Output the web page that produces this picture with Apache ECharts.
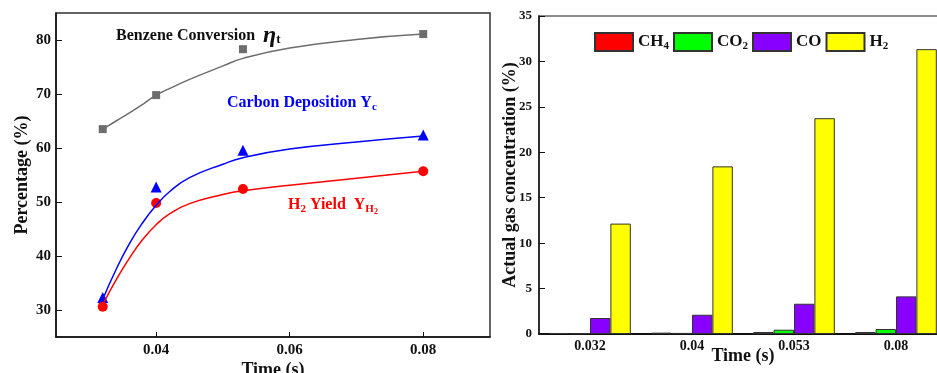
<!DOCTYPE html>
<html>
<head>
<meta charset="utf-8">
<script src="https://cdn.jsdelivr.net/npm/echarts@6/dist/echarts.min.js"></script>
<style>
  html, body { margin: 0; padding: 0; background: #fff; }
  #main { width: 937px; height: 373px; }
</style>
</head>
<body>
<div id="main"></div>
<script>
// left panel: measured points
const timeX = [0.032, 0.04, 0.053, 0.08]
const benzene = [63.5, 69.8, 78.3, 81.1]
const carbon = [32.3, 52.8, 59.6, 62.4]
const h2Yield = [30.6, 49.8, 52.4, 55.7]

// left panel: fitted curves
const fitX = [0.032, 0.034, 0.036, 0.038, 0.04, 0.042, 0.045, 0.05, 0.053, 0.06, 0.07, 0.08]
const benzeneFit = [63.5, 65.0, 66.5, 68.1, 69.8, 71.0, 72.7, 75.2, 76.6, 78.5, 80.1, 81.1]
const carbonFit = [32.0, 37.5, 42.3, 46.2, 49.4, 51.9, 54.5, 57.0, 58.2, 59.8, 61.1, 62.2]
const h2YieldFit = [31.0, 35.6, 39.6, 43.1, 45.8, 47.8, 49.7, 51.4, 52.1, 53.1, 54.4, 55.7]

const leftXTicks = [0.04, 0.06, 0.08]
const leftYTicks = [30, 40, 50, 60, 70, 80]

// right panel: gas concentrations
const timeCats = ['0.032', '0.04', '0.053', '0.08']
const ch4 = [0.1, 0.15, 0.22, 0.22]
const co2 = [0.08, 0.12, 0.47, 0.55]
const co = [1.76, 2.12, 3.33, 4.14]
const h2 = [12.15, 18.45, 23.75, 31.35]

const pair = (xs, ys) => xs.map((x, i) => [x, ys[i]])
const serif = 'Liberation Serif, Times New Roman, serif'
const subText = {
  CH4: 'CH{sub|4}',
  CO2: 'CO{sub|2}',
  CO: 'CO',
  H2: 'H{sub|2}'
}
const nameStyle = {fontFamily: serif, fontWeight: 'bold', fontSize: 18, color: '#111'}

const chart = echarts.init(document.getElementById('main'))
chart.setOption({
  animation: false,
  textStyle: {fontFamily: serif},
  grid: [
    {left: 56, top: 13, width: 434, height: 324, outerBoundsMode: 'none', show: true, borderColor: '#333', borderWidth: 1.5},
    {left: 539, top: 16, width: 408, height: 318, outerBoundsMode: 'none', show: true, borderColor: '#666', borderWidth: 1.5}
  ],
  legend: {
    left: 589,
    top: 27,
    icon: 'rect',
    itemWidth: 38,
    itemHeight: 18,
    itemGap: 4,
    data: ['CH4', 'CO2', 'CO', 'H2'],
    formatter: name => subText[name],
    textStyle: {
      fontFamily: serif,
      fontWeight: 'bold',
      fontSize: 17,
      color: '#111',
      rich: {
        sub: {fontFamily: serif, fontWeight: 'bold', fontSize: 11, verticalAlign: 'bottom', padding: [8, 0, 0, 0]}
      }
    }
  },
  xAxis: [
    {
      gridIndex: 0,
      type: 'value',
      min: 0.025,
      max: 0.09,
      name: 'Time (s)',
      nameLocation: 'middle',
      nameGap: 24,
      nameMoveOverlap: false,
      nameTextStyle: nameStyle,
      splitLine: {show: false},
      axisLine: {lineStyle: {color: '#111', width: 1.5}},
      axisTick: {inside: true, length: 5, customValues: leftXTicks, lineStyle: {color: '#111'}},
      axisLabel: {
        customValues: leftXTicks,
        formatter: v => v.toFixed(2),
        fontFamily: serif, fontWeight: 'bold', fontSize: 15, color: '#111', margin: 6
      }
    },
    {
      gridIndex: 1,
      type: 'category',
      data: timeCats,
      name: 'Time (s)',
      nameLocation: 'middle',
      nameGap: 13,
      nameMoveOverlap: false,
      nameTextStyle: nameStyle,
      axisLine: {lineStyle: {color: '#111', width: 2}},
      axisTick: {show: false},
      axisLabel: {fontFamily: serif, fontWeight: 'bold', fontSize: 14, color: '#111', margin: 5}
    }
  ],
  yAxis: [
    {
      gridIndex: 0,
      type: 'value',
      min: 25,
      max: 85,
      name: 'Percentage (%)',
      nameLocation: 'middle',
      nameGap: 25,
      nameMoveOverlap: false,
      nameTextStyle: nameStyle,
      splitLine: {show: false},
      axisLine: {show: true, lineStyle: {color: '#111', width: 1.5}},
      axisTick: {show: true, inside: true, length: 6, customValues: leftYTicks, lineStyle: {color: '#111'}},
      axisLabel: {customValues: leftYTicks, fontFamily: serif, fontWeight: 'bold', fontSize: 15, color: '#111', margin: 5}
    },
    {
      gridIndex: 1,
      type: 'value',
      min: 0,
      max: 35,
      interval: 5,
      name: 'Actual gas concentration (%)',
      nameLocation: 'middle',
      nameGap: 20,
      nameMoveOverlap: false,
      nameTextStyle: nameStyle,
      splitLine: {show: false},
      axisLine: {show: true, lineStyle: {color: '#111', width: 1.5}},
      axisTick: {show: true, inside: true, length: 6, lineStyle: {color: '#111'}},
      axisLabel: {fontFamily: serif, fontWeight: 'bold', fontSize: 13, color: '#111', margin: 7}
    }
  ],
  graphic: [
    {
      type: 'text', left: 116, top: 24,
      style: {
        text: 'Benzene Conversion  {eta|η}{sub|t}',
        font: 'bold 16px ' + serif,
        fill: '#111',
        rich: {
          eta: {fontFamily: serif, fontWeight: 'bold', fontStyle: 'italic', fontSize: 24, fill: '#111'},
          sub: {fontFamily: serif, fontWeight: 'bold', fontSize: 13, fill: '#111', padding: [8, 0, 0, 0]}
        }
      }
    },
    {
      type: 'text', left: 227, top: 95,
      style: {
        text: 'Carbon Deposition Y{sub|c}',
        font: 'bold 16px ' + serif,
        fill: '#0000ff',
        rich: {sub: {fontFamily: serif, fontWeight: 'bold', fontSize: 11, fill: '#0000ff', padding: [9, 0, 0, 0]}}
      }
    },
    {
      type: 'text', left: 288, top: 197,
      style: {
        text: 'H{sub|2} Yield  Y{sub2|H}{sub3|2}',
        font: 'bold 16px ' + serif,
        fill: '#ff0000',
        rich: {
          sub: {fontFamily: serif, fontWeight: 'bold', fontSize: 11, fill: '#ff0000', padding: [9, 0, 0, 0]},
          sub2: {fontFamily: serif, fontWeight: 'bold', fontSize: 11, fill: '#ff0000', padding: [9, 0, 0, 0]},
          sub3: {fontFamily: serif, fontWeight: 'bold', fontSize: 8, fill: '#ff0000', padding: [14, 0, 0, 0]}
        }
      }
    }
  ],
  series: [
    // fitted curves
    {type: 'line', xAxisIndex: 0, yAxisIndex: 0, data: pair(fitX, benzeneFit), smooth: true, showSymbol: false, lineStyle: {color: '#6d6d6d', width: 1.5}},
    {type: 'line', xAxisIndex: 0, yAxisIndex: 0, data: pair(fitX, carbonFit), smooth: true, showSymbol: false, lineStyle: {color: '#0000ff', width: 1.5}},
    {type: 'line', xAxisIndex: 0, yAxisIndex: 0, data: pair(fitX, h2YieldFit), smooth: true, showSymbol: false, lineStyle: {color: '#ff0000', width: 1.5}},
    // measured points
    {type: 'scatter', xAxisIndex: 0, yAxisIndex: 0, data: pair(timeX, benzene), symbol: 'rect', symbolSize: 8, itemStyle: {color: '#6d6d6d', opacity: 1}},
    {type: 'scatter', xAxisIndex: 0, yAxisIndex: 0, data: pair(timeX, carbon), symbol: 'triangle', symbolSize: 11, itemStyle: {color: '#0000ff', opacity: 1}},
    {type: 'scatter', xAxisIndex: 0, yAxisIndex: 0, data: pair(timeX, h2Yield), symbol: 'circle', symbolSize: 10, itemStyle: {color: '#ff0000', opacity: 1}},
    // gas concentration bars
    {name: 'CH4', type: 'bar', xAxisIndex: 1, yAxisIndex: 1, data: ch4, barGap: '0%', barCategoryGap: '20%', itemStyle: {color: '#ff0000', borderColor: '#333', borderWidth: 1}},
    {name: 'CO2', type: 'bar', xAxisIndex: 1, yAxisIndex: 1, data: co2, barGap: '0%', barCategoryGap: '20%', itemStyle: {color: '#00ff00', borderColor: '#333', borderWidth: 1}},
    {name: 'CO', type: 'bar', xAxisIndex: 1, yAxisIndex: 1, data: co, barGap: '0%', barCategoryGap: '20%', itemStyle: {color: '#8800ff', borderColor: '#333', borderWidth: 1}},
    {name: 'H2', type: 'bar', xAxisIndex: 1, yAxisIndex: 1, data: h2, barGap: '0%', barCategoryGap: '20%', itemStyle: {color: '#ffff00', borderColor: '#333', borderWidth: 1}}
  ]
})
</script>
</body>
</html>
